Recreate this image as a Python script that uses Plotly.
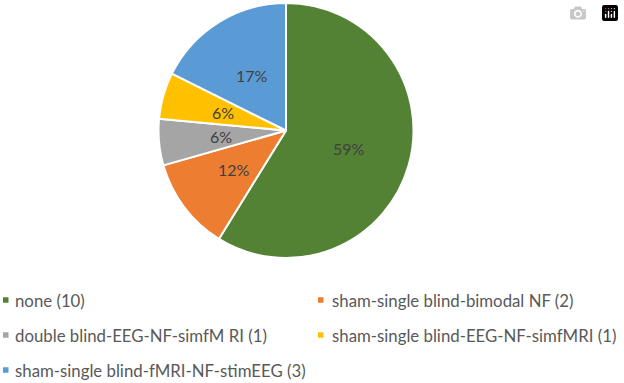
import math
import plotly.graph_objects as go

categories = [
    "none (10)",
    "sham-single blind-bimodal NF (2)",
    "double blind-EEG-NF-simfM RI (1)",
    "sham-single blind-EEG-NF-simfMRI (1)",
    "sham-single blind-fMRI-NF-stimEEG (3)",
]
counts = [10, 2, 1, 1, 3]
percent_labels = ["59%", "12%", "6%", "6%", "17%"]
colors = ["#548235", "#ED7D31", "#A5A5A5", "#FFC000", "#5B9BD5"]

W, H = 624, 383
cx, cy, r = 286, 130.5, 127.5   # pie centre / radius in pixels
label_r = 0.51                   # data labels sit at half the radius (like Excel "best fit")

fig = go.Figure()
fig.add_trace(go.Pie(
    labels=categories,
    values=counts,
    textinfo="none",
    hoverinfo="label+value+percent",
    sort=False,
    direction="clockwise",
    rotation=0,
    marker=dict(colors=colors, line=dict(color="white", width=2)),
    showlegend=False,
    domain=dict(x=[(cx - r) / W, (cx + r) / W], y=[1 - (cy + r) / H, 1 - (cy - r) / H]),
))

# data labels, positioned at each slice's mid-angle (computed from the counts)
total = sum(counts)
cum = 0
annotations = []
for v, lab in zip(counts, percent_labels):
    theta = 2 * math.pi * (cum + v / 2) / total
    cum += v
    px = cx + label_r * r * math.sin(theta)
    py = cy - label_r * r * math.cos(theta)
    annotations.append(dict(
        x=px / W, y=1 - py / H, xref="paper", yref="paper",
        text=lab, showarrow=False, xanchor="center", yanchor="middle",
        font=dict(family="Lato", size=16, color="#404040"),
    ))

# legend (key) in two columns below the pie: small colour square + label text
legend_rows = [300, 300, 335, 335, 370]       # row centres (px from top)
legend_cols = [(3, 13), (318, 330), (3, 13), (318, 330), (3, 13)]  # (square left, text left)
sq = 5.5
shapes = []
for name, col, ry, (sx, tx) in zip(categories, colors, legend_rows, legend_cols):
    shapes.append(dict(
        type="rect", xref="paper", yref="paper",
        x0=sx / W, x1=(sx + sq) / W,
        y0=1 - (ry + sq / 2) / H, y1=1 - (ry - sq / 2) / H,
        fillcolor=col, line=dict(width=0),
    ))
    annotations.append(dict(
        x=tx / W, y=1 - ry / H, xref="paper", yref="paper",
        text=name, showarrow=False, xanchor="left", yanchor="middle",
        font=dict(family="Lato", size=16.8, color="#595959"),
    ))

fig.update_layout(
    width=W, height=H,
    margin=dict(l=0, r=0, t=0, b=0, autoexpand=False),
    paper_bgcolor="white",
    plot_bgcolor="white",
    showlegend=False,
    annotations=annotations,
    shapes=shapes,
)

fig.write_html("out.html", post_script="document.body.style.margin='0px';")
